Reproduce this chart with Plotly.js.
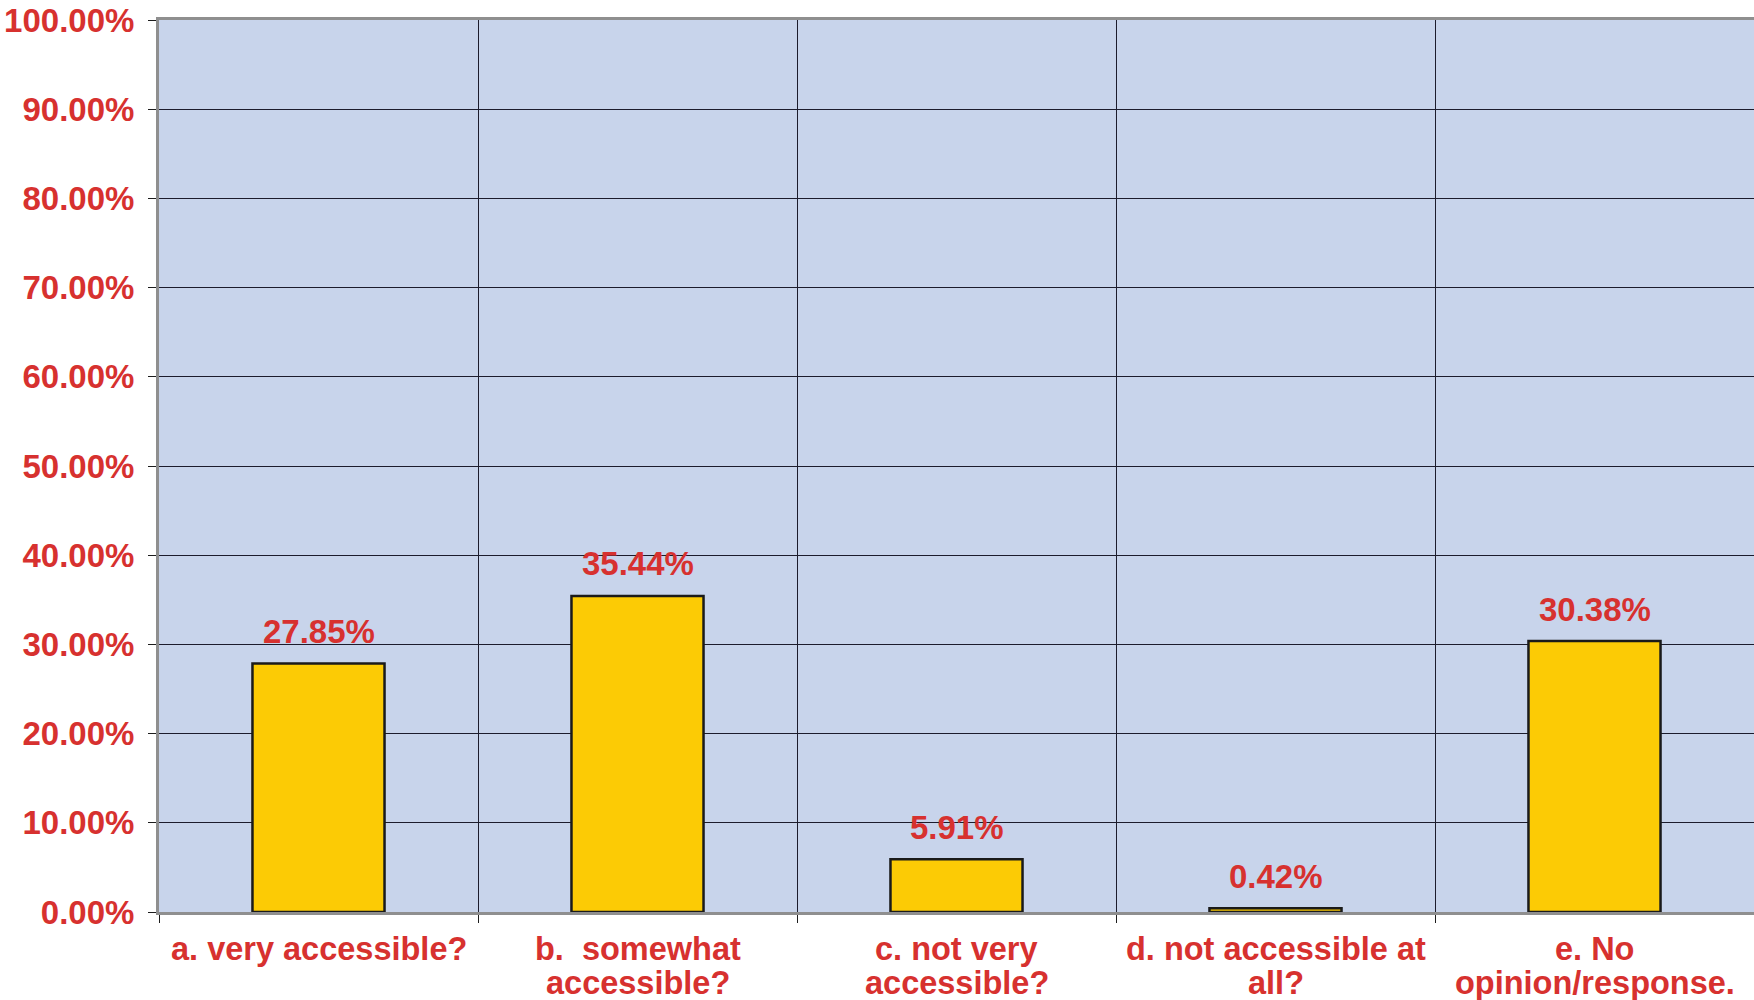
<!DOCTYPE html>
<html>
<head>
<meta charset="utf-8">
<script src="https://cdn.plot.ly/plotly-3.0.1.min.js"></script>
<style>html,body{margin:0;padding:0;background:#fff;}#chart{width:1754px;height:1000px;}</style>
</head>
<body>
<div id="chart"></div>
<script>
var categories = [
  'a. very accessible?',
  'b.&nbsp; somewhat<br>accessible?',
  'c. not very<br>accessible?',
  'd. not accessible at<br>all?',
  'e. No<br>opinion/response.'
];
var values = [27.85, 35.44, 5.91, 0.42, 30.38];
var valueLabels = ['27.85%', '35.44%', '5.91%', '0.42%', '30.38%'];
var yTickValues = [0, 10, 20, 30, 40, 50, 60, 70, 80, 90, 100];
var yTickLabels = ['0.00%', '10.00%', '20.00%', '30.00%', '40.00%', '50.00%', '60.00%', '70.00%', '80.00%', '90.00%', '100.00%'];

var RED = '#D7312F';
var FONT = 'Liberation Sans, Arial, Helvetica, sans-serif';
var xPos = categories.map(function (c, i) { return i; });
var boundaries = [];
for (var i = 0; i <= categories.length; i++) boundaries.push(i - 0.5);

var annotations = [];
categories.forEach(function (c, i) {
  var lines = c.split('<br>');
  lines.forEach(function (ln, j) {
    annotations.push({
      x: i, xref: 'x', y: 0, yref: 'paper',
      text: ln, showarrow: false,
      xanchor: 'center', yanchor: 'middle',
      yshift: -37 - j * 34,
      font: {family: FONT, size: 32.5, color: RED, weight: 700}
    });
  });
});
values.forEach(function (v, i) {
  annotations.push({
    x: i, xref: 'x', y: v, yref: 'y',
    text: valueLabels[i], showarrow: false,
    xanchor: 'center', yanchor: 'middle',
    yshift: 32,
    font: {family: FONT, size: 33, color: RED, weight: 700}
  });
});

var trace = {
  type: 'bar',
  x: xPos,
  y: values,
  marker: {color: '#FCCB05', line: {color: '#1A1A1A', width: 2.5}},
  hoverinfo: 'none'
};

var layout = {
  width: 1754, height: 1000,
  margin: {l: 159, r: 0, t: 20, b: 88},
  paper_bgcolor: '#FFFFFF',
  plot_bgcolor: '#C8D4EB',
  showlegend: false,
  bargap: 0.586,
  xaxis: {
    range: [-0.5, categories.length - 0.5],
    tickvals: boundaries,
    ticktext: boundaries.map(function () { return ''; }),
    showgrid: true, gridcolor: '#1C1C2C', gridwidth: 1,
    ticks: 'outside', ticklen: 8, tickcolor: '#1C1C1C', tickwidth: 1,
    showline: true, linecolor: '#8F8F8F', linewidth: 3, mirror: true,
    zeroline: false, fixedrange: true
  },
  yaxis: {
    range: [0, 100],
    tickvals: yTickValues,
    ticktext: yTickLabels,
    showgrid: true, gridcolor: '#1C1C2C', gridwidth: 1,
    ticks: 'outside', ticklen: 8, tickcolor: '#1C1C1C', tickwidth: 1,
    ticklabelstandoff: 7,
    showline: true, linecolor: '#8F8F8F', linewidth: 3,
    zeroline: false,
    tickfont: {family: FONT, size: 33, color: RED, weight: 700},
    fixedrange: true
  },
  annotations: annotations
};

Plotly.newPlot('chart', [trace], layout, {displayModeBar: false, staticPlot: true});
</script>
</body>
</html>
